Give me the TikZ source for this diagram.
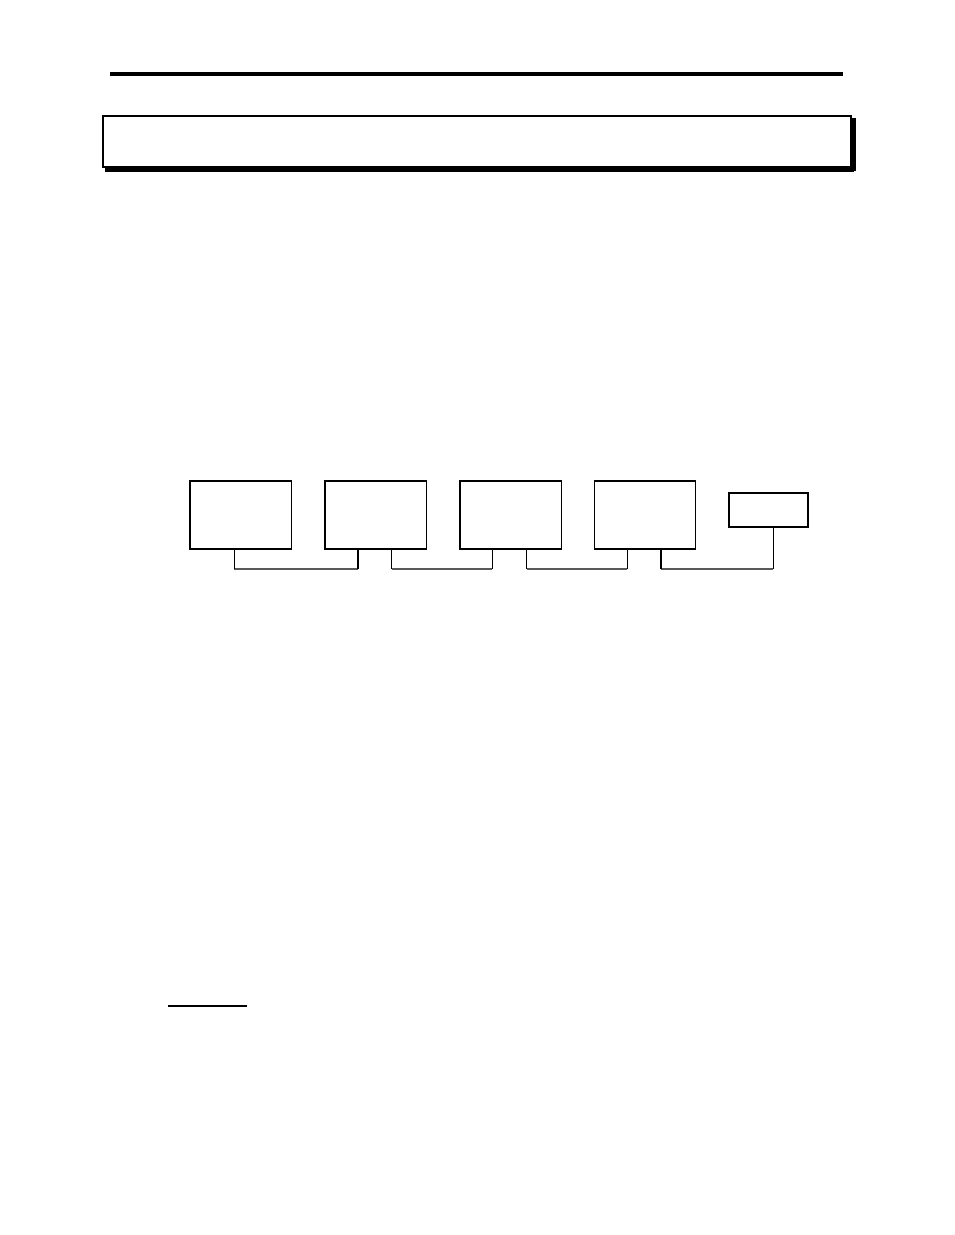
\documentclass[tikz,border=0pt]{standalone}
\begin{document}
\begin{tikzpicture}[x=1pt,y=-1pt,
  unit/.style={draw=black,line width=1.2pt,inner sep=0pt,minimum width=101.5pt,minimum height=68pt},
  term/.style={draw=black,line width=2pt,inner sep=0pt,minimum width=79pt,minimum height=34pt},
  tick/.style={draw=black,line width=1pt},
  thicktick/.style={draw=black,line width=2pt},
  bus/.style={draw=black!65,line width=1.4pt}]
\useasboundingbox (0,0) rectangle (954,1235);
% top rule
\coordinate (rl) at (110,74);
\coordinate (rr) at (843,74);
\draw[line width=4pt] (rl) -- (rr);
% header box with shadow
\node[draw=black,line width=2pt,inner sep=0pt,minimum width=748pt,minimum height=51pt] (header) at (477,141.5) {};
\fill[black] (header.north east) ++(0,3) rectangle ++(4,53);
\fill[black] (header.south west) ++(3,0) rectangle ++(749,4);
% units
\node[unit] (b1) at (240.8,515) {};
\node[unit] (b2) at (375.8,515) {};
\node[unit] (b3) at (510.8,515) {};
\node[unit] (b4) at (645,515) {};
\node[term] (b5) at (768.5,509.7) {};
% bus points
\coordinate (p1) at (234.3,569);
\coordinate (p2) at (357.7,569);
\coordinate (p3) at (391.7,569);
\coordinate (p4) at (492.3,569);
\coordinate (p5) at (526.7,569);
\coordinate (p6) at (627.3,569);
\coordinate (p7) at (660.7,569);
\coordinate (p8) at (773.3,569);
% bus segments
\draw[bus] (p1) -- (p2);
\draw[bus] (p3) -- (p4);
\draw[bus] (p5) -- (p6);
\draw[bus] (p7) -- (p8);
% ticks
\draw[tick] (b1.south -| p1) -- (p1);
\draw[thicktick] (b2.south -| p2) -- (p2);
\draw[tick] (b2.south -| p3) -- (p3);
\draw[tick] (b3.south -| p4) -- (p4);
\draw[tick] (b3.south -| p5) -- (p5);
\draw[tick] (b4.south -| p6) -- (p6);
\draw[thicktick] (b4.south -| p7) -- (p7);
\draw[tick] (b5.south -| p8) -- (p8);
% short underline at bottom
\coordinate (ul) at (168.3,1006);
\coordinate (ur) at (246.7,1006);
\draw[line width=1.2pt] (ul) -- (ur);
\end{tikzpicture}
\end{document}
